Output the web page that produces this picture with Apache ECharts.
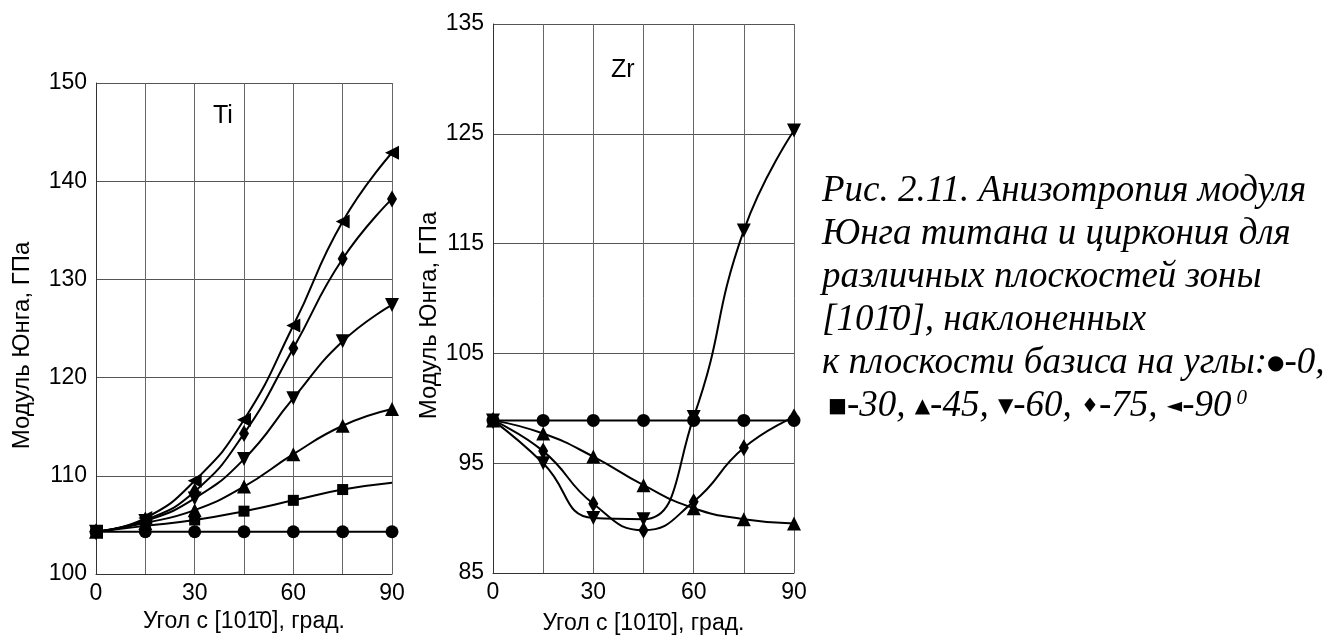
<!DOCTYPE html>
<html>
<head>
<meta charset="utf-8">
<title>Анизотропия модуля Юнга Ti и Zr</title>
<script src="https://cdn.jsdelivr.net/npm/echarts@6/dist/echarts.min.js"></script>
</head>
<body style="margin:0;background:#fff">
<div id="main" style="width:1338px;height:640px;"></div>
<script>
// угол наклона, град.
var angles = [0, 15, 30, 45, 60, 75, 90];

// Ti, модуль Юнга, ГПа
var ti0  = [104.3, 104.3, 104.3, 104.3, 104.3, 104.3, 104.3];
var ti30 = [104.3, 104.9, 105.5, 106.4, 107.5, 108.6, 109.3];
var ti45 = [104.3, 105.2, 106.5, 108.9, 112.2, 115.1, 116.8];
var ti60 = [104.3, 105.4, 107.7, 111.7, 117.9, 123.7, 127.4];
var ti75 = [104.3, 105.5, 108.4, 114.3, 123.0, 132.1, 138.2];
var ti90 = [104.3, 105.7, 109.5, 115.7, 125.3, 135.9, 142.9];

// Zr, модуль Юнга, ГПа
var zr0  = [98.9, 98.9, 98.9, 98.9, 98.9, 98.9, 98.9];
var zr45 = [98.9, 97.7, 95.6, 93.0, 90.9, 89.9, 89.5];
var zr60 = [98.9, 95.0, 90.0, 89.9, 99.2, 116.2, 125.3];
var zr75 = [98.9, 96.1, 91.3, 88.9, 91.5, 96.4, 99.2];

var xLabels = [0, 30, 60, 90];
var tiTicks = [100, 150, 10];
var zrTicks = [85, 135, 10];

var caption = [
  'Рис. 2.11. Анизотропия модуля',
  'Юнга титана и циркония для',
  'различных плоскостей зоны',
  '[101\u03040], наклоненных',
  'к плоскости базиса на углы:{s|●}-0,'
];

var myChart = echarts.init(document.getElementById('main'));

var sans = 'Liberation Sans';

function mk(name, data, xi, symbol, rot, size, lastNoSymbol) {
  var d = data.map(function (v, i) {
    var p = [angles[i], v];
    if (lastNoSymbol && i == data.length - 1) return { value: p, symbol: 'none' };
    return p;
  });
  return {
    name: name,
    type: 'line',
    xAxisIndex: xi,
    yAxisIndex: xi,
    smooth: true,
    data: d,
    symbol: symbol,
    symbolRotate: rot,
    symbolSize: size,
    showAllSymbol: true,
    lineStyle: { color: '#000', width: 2 },
    itemStyle: { color: '#000' },
    z: 3
  };
}

function xAxis(gi, gap) {
  return {
    type: 'value', gridIndex: gi, min: 0, max: 90, interval: 15,
    name: 'Угол с [101\u03040], град.', nameLocation: 'middle', nameGap: gap,
    nameTextStyle: { color: '#000', fontSize: 23, fontFamily: sans },
    axisLine: { lineStyle: { color: '#333', width: 1 } },
    axisTick: { show: false },
    splitLine: { show: true, lineStyle: { color: '#666', width: 1 } },
    axisLabel: {
      color: '#000', fontSize: 23, fontFamily: sans, margin: 8,
      formatter: function (v) { return xLabels.indexOf(v) >= 0 ? v : ''; }
    }
  };
}

function yAxis(gi, t, gap) {
  return {
    type: 'value', gridIndex: gi, min: t[0], max: t[1], interval: t[2],
    name: 'Модуль Юнга, ГПа', nameLocation: 'middle', nameGap: gap,
    nameTextStyle: { color: '#000', fontSize: 24, fontFamily: sans, padding: [0, 34, 0, 0] },
    axisLine: { show: true, lineStyle: { color: '#333', width: 1 } },
    axisTick: { show: false },
    splitLine: { show: true, lineStyle: { color: '#555', width: 1 } },
    axisLabel: { color: '#000', fontSize: 23, fontFamily: sans, margin: 9 }
  };
}

var graphics = [
  { type: 'text', left: 213, top: 104, style: { text: 'Ti', fontSize: 25, fontFamily: sans, fill: '#000' } },
  { type: 'text', left: 611, top: 58, style: { text: 'Zr', fontSize: 25, fontFamily: sans, fill: '#000' } }
];
caption.forEach(function (s, i) {
  graphics.push({
    type: 'text', left: 822, top: 173 + i * 43,
    style: {
      text: s, fontSize: 37, fontStyle: 'italic', fontFamily: 'Liberation Serif', fill: '#000',
      rich: { s: { fontSize: 20, fontFamily: 'DejaVu Sans', fontStyle: 'normal', fill: '#000' } }
    }
  });
});
graphics.push({
  type: 'text', left: 828, top: 173 + 5 * 43,
  style: {
    text: '{s|■}-30, {s|▲}-45, {s|▼}-60, {s|♦}-75, {s|◄}-90{sup|0}',
    fontSize: 37, fontStyle: 'italic', fontFamily: 'Liberation Serif', fill: '#000',
    rich: {
      s: { fontSize: 20, fontFamily: 'DejaVu Sans', fontStyle: 'normal', fill: '#000' },
      sup: { fontSize: 21, fontStyle: 'italic', fontFamily: 'Liberation Serif', fill: '#000', padding: [0, 0, 16, 5] }
    }
  }
});

var option = {
  backgroundColor: '#fff',
  animation: false,
  grid: [
    { left: 96, top: 83, width: 296, height: 491 },
    { left: 493, top: 24, width: 301, height: 551 }
  ],
  xAxis: [xAxis(0, 35), xAxis(1, 39)],
  yAxis: [yAxis(0, tiTicks, 62), yAxis(1, zrTicks, 49)],
  series: [
    mk('0', ti0, 0, 'circle', 0, 13),
    mk('30', ti30, 0, 'rect', 0, 11, true),
    mk('45', ti45, 0, 'triangle', 0, 14),
    mk('60', ti60, 0, 'triangle', 180, 14),
    mk('75', ti75, 0, 'diamond', 0, [10, 17]),
    mk('90', ti90, 0, 'triangle', 90, 14),
    mk('0', zr0, 1, 'circle', 0, 13),
    mk('45', zr45, 1, 'triangle', 0, 14),
    mk('60', zr60, 1, 'triangle', 180, 14),
    mk('75', zr75, 1, 'diamond', 0, [10, 17])
  ],
  graphic: graphics
};
myChart.setOption(option);
</script>
</body>
</html>
